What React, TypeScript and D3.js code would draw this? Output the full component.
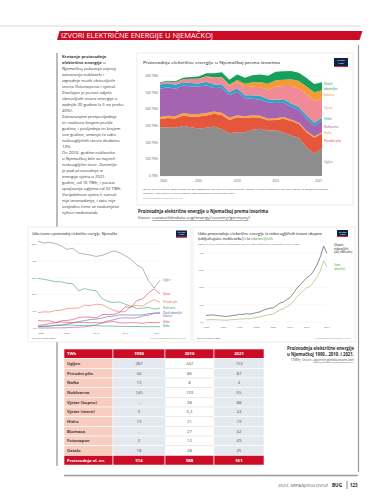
import React from "react";
import * as d3 from "d3";

// ---------- Main stacked area: electricity production by source (TWh) ----------
const mixYears = [2000, 2001, 2002, 2003, 2004, 2005, 2006, 2007, 2008, 2009, 2010, 2011, 2012, 2013, 2014, 2015, 2016, 2017, 2018, 2019, 2020, 2021];
const mixUgljen = [291, 292, 290, 300, 293, 285, 290, 297, 280, 257, 263, 262, 277, 283, 273, 273, 262, 243, 229, 171, 135, 165];
const mixPlin = [49, 56, 55, 63, 62, 72, 73, 76, 86, 79, 89, 86, 76, 67, 61, 63, 82, 87, 83, 91, 95, 90];
const mixNafta = [14, 14, 14, 15, 15, 15, 15, 14, 14, 13, 12, 11, 11, 11, 10, 10, 10, 9, 8, 8, 7, 6];
const mixNuklearna = [170, 171, 165, 165, 167, 163, 167, 141, 149, 135, 141, 108, 99, 97, 97, 92, 85, 76, 76, 75, 64, 69];
const mixHidro = [25, 23, 23, 19, 21, 20, 20, 21, 20, 19, 21, 18, 22, 23, 19, 19, 21, 20, 18, 20, 19, 20];
const mixVjetar = [9.5, 10.5, 15.8, 18.7, 25.5, 27.2, 30.7, 39.7, 40.6, 38.6, 37.8, 48.9, 50.7, 51.7, 57, 79.2, 79.9, 105.7, 110, 126, 132, 114];
const mixSolarna = [0, 0.1, 0.2, 0.3, 0.6, 1.3, 2.2, 3.1, 4.4, 6.6, 11.7, 19.6, 26.4, 31, 36, 38.7, 38.1, 39.4, 45.8, 46.4, 50.6, 50];
const mixOstali = [4.7, 5, 6, 9, 10, 14, 18.6, 24, 28, 30, 33, 36, 43, 45, 48, 50, 50, 50, 50, 50, 50, 49];
const mixKeys = ["Ugljen", "Prirodni plin", "Nafta", "Nuklearna", "Hidro", "Vjetar", "Solarna", "Ostali obnovljivi"];
const mixTicksY = [0, 100, 200, 300, 400, 500, 600];
const mixTicksX = [2000, 2005, 2010, 2015, 2021];

// ---------- Share of sources (%) ----------
const shareYears = [2000, 2001, 2002, 2003, 2004, 2005, 2006, 2007, 2008, 2009, 2010, 2011, 2012, 2013, 2014, 2015, 2016, 2017, 2018, 2019, 2020, 2021];
const shareUgljen = [51.7, 50.6, 51.0, 50.3, 48.9, 46.8, 47.5, 44.6, 44.0, 43.4, 42.6, 43.2, 44.5, 45.9, 44.9, 43.0, 41.0, 37.5, 35.6, 28.2, 23.8, 28.4];
const shareNuklearna = [29.5, 29.0, 28.3, 27.6, 27.5, 26.6, 26.3, 22.1, 23.5, 22.6, 22.2, 17.6, 15.8, 15.2, 15.5, 14.2, 13.1, 11.6, 11.8, 12.3, 11.3, 11.8];
const sharePlin = [9.1, 9.6, 9.5, 10.4, 10.6, 11.6, 11.7, 11.9, 13.5, 13.3, 14.1, 14.0, 12.2, 10.6, 9.6, 9.8, 12.6, 13.5, 13.0, 15.2, 16.9, 15.3];
const shareVjetar = [1.6, 1.8, 2.7, 3.1, 4.3, 4.5, 5.0, 6.3, 6.5, 6.5, 6.0, 8.0, 8.1, 8.1, 9.2, 12.6, 12.3, 16.3, 17.3, 20.8, 23.3, 20.2];
const shareSolarna = [0, 0, 0, 0.1, 0.1, 0.2, 0.4, 0.5, 0.7, 1.1, 1.9, 3.2, 4.2, 4.9, 5.8, 6.1, 5.9, 6.1, 7.1, 7.6, 8.9, 8.7];
const shareOstali = [0.8, 0.9, 1.0, 1.5, 1.7, 2.3, 3.0, 3.8, 4.4, 5.0, 5.3, 5.9, 6.8, 7.1, 7.7, 7.8, 7.7, 7.7, 7.8, 8.5, 8.8, 9.1];
const shareHidro = [4.4, 4.2, 4.3, 3.3, 3.6, 3.3, 3.3, 3.3, 3.3, 3.1, 3.3, 2.9, 3.5, 3.9, 3.1, 3.0, 3.2, 3.1, 2.8, 3.3, 3.2, 3.4];
const shareNafta = [1.0, 1.1, 1.4, 1.7, 1.6, 1.8, 1.7, 1.5, 1.5, 1.6, 1.4, 1.2, 1.2, 1.1, 1.0, 0.9, 0.9, 0.9, 0.8, 0.8, 0.8, 0.8];
const shareTicksY = [0, 10, 20, 30, 40, 50];
const shareTicksX = [2000, 2005, 2010, 2015, 2021];

// ---------- Low-carbon vs renewables (%) ----------
const lcYears = [1985, 1986, 1987, 1988, 1989, 1990, 1991, 1992, 1993, 1994, 1995, 1996, 1997, 1998, 1999, 2000, 2001, 2002, 2003, 2004, 2005, 2006, 2007, 2008, 2009, 2010, 2011, 2012, 2013, 2014, 2015, 2016, 2017, 2018, 2019, 2020, 2021];
const lcUkupno = [3.8, 4.0, 4.1, 3.9, 3.6, 3.4, 3.2, 3.5, 3.8, 4.0, 4.5, 4.4, 4.8, 4.6, 4.9, 5.5, 5.8, 6.8, 7.5, 8.0, 8.2, 9.6, 11.0, 11.5, 12.9, 14.2, 16.6, 19.5, 21.5, 23.7, 25.6, 27.1, 29.5, 33.0, 37.7, 44.0, 39.8];
const lcObnovljivi = [1.2, 1.3, 1.4, 1.3, 1.2, 1.1, 1.0, 1.2, 1.4, 1.5, 1.8, 1.7, 2.0, 1.9, 2.2, 2.6, 2.8, 3.5, 4.0, 4.4, 4.6, 5.8, 7.0, 7.6, 8.8, 10.0, 12.0, 14.6, 16.3, 18.2, 19.9, 20.8, 23.0, 26.0, 29.5, 35.5, 32.0];
const lcTicksY = [0, 10, 20, 30, 40];
const lcTicksX = [1985, 1990, 1995, 2000, 2005, 2010, 2015, 2021];

// ---------- Table ----------
const tableHeader = ["TWh", "1990", "2010", "2021"];
const tableLabels = ["Ugljen", "Prirodni plin", "Nafta", "Nuklearna", "Vjetar (kopno)", "Vjetar (more)", "Hidro", "Biomasa", "Fotonapon", "Ostalo"];
const table1990 = ["287", "34", "10", "145", "-", "0", "19", "-", "0", "18"];
const table2010 = ["242", "86", "8", "133", "38", "0,2", "21", "27", "12", "28"];
const table2021 = ["153", "87", "4", "65", "88", "24", "19", "42", "49", "25"];
const tableTotal = ["Proizvodnja el. en.", "514", "588", "551"];

const bodyText = [
  "",
  "",
  "Njemačkoj pokazuje utjecaj",
  "zatvaranja nuklearki i",
  "izgradnje novih obnovljivih",
  "izvora (fotonapona i vjetra).",
  "Značajan je porast udjela",
  "obnovljivih izvora energije u",
  "zadnjih 20 godina (s 5 na preko",
  "40%).",
  "Zatvaranjem pretposljednja",
  "tri reaktora krajem prošle",
  "godine, i posljednja tri krajem",
  "ove godine, smanjit će udio",
  "niskougljičnih izvora dodatno",
  "12%.",
  "Do 2016. godine nuklearke",
  "u Njemačkoj bile su najveći",
  "niskougljični izvor. Zanimljiv",
  "je pad proizvodnje iz",
  "energije vjetra u 2021.",
  "godini, od 16 TWh, i porast",
  "spaljivanja ugljena od 32 TWh.",
  "Varijabilnost vjetra (i sunca)",
  "nije iznenađenje, i zato nije",
  "svejedno čime se nadomjesti",
  "njihov nedostatak.",
];

const FC = "Lato, 'Noto Sans', sans-serif";
const FM = "'Open Sans', 'Noto Sans', sans-serif";

const mixColors: Record<string, string> = {
  "Ugljen": "#8d8d8d",
  "Prirodni plin": "#e6563c",
  "Nafta": "#f4a33e",
  "Nuklearna": "#a564b0",
  "Hidro": "#2fa2c8",
  "Vjetar": "#f08a96",
  "Solarna": "#f59b36",
  "Ostali obnovljivi": "#17a05a",
};

const shareColors: Record<string, string> = {
  "Ugljen": "#80808f",
  "Vjetar": "#e2345f",
  "Prirodni plin": "#e8705c",
  "Nuklearna": "#3fa56a",
  "Ostali obnovljivi": "#5469b3",
  "Solarna": "#a2589f",
  "Hidro": "#d8434e",
  "Nafta": "#2f9c80",
};

function relax(items: { key: string; y: number }[], gap: number, maxY: number) {
  const s = items.map((d) => ({ ...d })).sort((a, b) => a.y - b.y);
  for (let i = 1; i < s.length; i++) if (s[i].y < s[i - 1].y + gap) s[i].y = s[i - 1].y + gap;
  if (s[s.length - 1].y > maxY) {
    s[s.length - 1].y = maxY;
    for (let i = s.length - 2; i >= 0; i--) if (s[i].y > s[i + 1].y - gap) s[i].y = s[i + 1].y - gap;
  }
  return s;
}

function Logo({ x, y, w, h }: { x: number; y: number; w: number; h: number }) {
  return (
    <g>
      <rect x={x} y={y} width={w} height={h} fill="#0b2447" />
      <rect x={x} y={y + h - 1} width={w} height={1} fill="#d42b2b" />
      <text x={x + w / 2} y={y + h * 0.38} fontSize={1.6} fill="#fff" textAnchor="middle" fontFamily={FC}>Our World</text>
      <text x={x + w / 2} y={y + h * 0.68} fontSize={1.6} fill="#fff" textAnchor="middle" fontFamily={FC}>in Data</text>
    </g>
  );
}

export default function App() {
  // ---- main stacked area chart ----
  const mx = d3.scaleLinear().domain([2000, 2021]).range([160, 322]);
  const my = d3.scaleLinear().domain([0, 600]).range([176, 76]);
  const mixCols = [mixUgljen, mixPlin, mixNafta, mixNuklearna, mixHidro, mixVjetar, mixSolarna, mixOstali];
  const mixRows = mixYears.map((year, i) => {
    const r: any = { year };
    mixKeys.forEach((k, j) => (r[k] = mixCols[j][i]));
    return r;
  });
  const stacked = d3.stack<any>().keys(mixKeys)(mixRows);
  const area = d3
    .area<any>()
    .x((d) => mx(d.data.year))
    .y0((d) => my(d[0]))
    .y1((d) => my(d[1]));
  const lastIdx = mixYears.length - 1;
  const mixLabels = relax(
    stacked.map((s) => ({ key: s.key, y: my((s[lastIdx][0] + s[lastIdx][1]) / 2) })),
    5,
    170
  );

  // ---- share line chart ----
  const sx = d3.scaleLinear().domain([2000, 2021]).range([38, 160]);
  const sy = d3.scaleLinear().domain([0, 50]).range([328, 244]);
  const shareSeries = [
    { key: "Ugljen", v: shareUgljen },
    { key: "Nuklearna", v: shareNuklearna },
    { key: "Prirodni plin", v: sharePlin },
    { key: "Vjetar", v: shareVjetar },
    { key: "Solarna", v: shareSolarna },
    { key: "Ostali obnovljivi", v: shareOstali },
    { key: "Hidro", v: shareHidro },
    { key: "Nafta", v: shareNafta },
  ];
  const sLine = d3
    .line<number>()
    .x((_, i) => sx(shareYears[i]))
    .y((d) => sy(d));
  const shareLabels = relax(
    shareSeries.map((s) => ({ key: s.key, y: sy(s.v[s.v.length - 1]) })),
    3.4,
    326
  );

  // ---- low carbon chart ----
  const lx = d3.scaleLinear().domain([1985, 2021]).range([206, 327]);
  const ly = d3.scaleLinear().domain([0, 40]).range([322, 253]);
  const lLine = d3
    .line<number>()
    .x((_, i) => lx(lcYears[i]))
    .y((d) => ly(d));

  // ---- table ----
  const colX = [64, 113, 165, 214, 264];
  const tTop = 349;
  const rowH = 9.67;
  const colFill = ["#f6cdbf", "#e3e9ee", "#ffffff", "#e3e9ee"];

  return (
    <svg width={375} height={499} style={{ position: "absolute", left: 0, top: 0, display: "block" }}>
      <rect x={0} y={0} width={375} height={499} fill="#ffffff" />
      {/* top rule */}
      <line x1={0} x2={360} y1={26} y2={26} stroke="#cfcfcf" strokeWidth={0.8} />
      {/* banner */}
      <polygon points="59.5,31 362.5,31 359.5,40 57,40" fill="#cc0b27" />
      <text x={61} y={38.4} fontSize={7.6} fill="#fff" fontFamily={FM} textLength={152} lengthAdjust="spacingAndGlyphs">
        IZVORI ELEKTRIČNE ENERGIJE U NJEMAČKOJ
      </text>

      {/* frame lines */}
      <line x1={57} x2={57} y1={53} y2={466} stroke="#555" strokeWidth={0.8} />
      <line x1={358.5} x2={358.5} y1={45} y2={472} stroke="#9a9a9a" strokeWidth={1.2} />
      <line x1={64} x2={358} y1={475.5} y2={475.5} stroke="#9a9a9a" strokeWidth={1.4} />

      {/* body text column */}
      <g fontFamily={FM} fontSize={4.25} fill="#3a3a3a">
        <text x={62} y={57.5} fontWeight={700}>Kretanje proizvodnje</text>
        <text x={62} y={63.5}>
          <tspan fontWeight={700}>električne energije</tspan> u
        </text>
        {bodyText.map((t, i) =>
          i < 2 ? null : (
            <text key={i} x={62} y={57.5 + i * 6}>
              {t}
            </text>
          )
        )}
      </g>

      {/* ===== main chart ===== */}
      <rect x={137} y={53} width={216} height={152} fill="#fff" stroke="#e2e2e2" strokeWidth={0.6} />
      <text x={143} y={64} fontSize={4.4} fill="#333" fontFamily={FC} textLength={137} lengthAdjust="spacingAndGlyphs">
        Proizvodnja električne energije u Njemačkoj prema izvorima
      </text>
      <Logo x={334} y={58} w={14} h={9} />
      {mixTicksY.map((t) => (
        <g key={t}>
          <line x1={160} x2={322} y1={my(t)} y2={my(t)} stroke="#dcdcdc" strokeWidth={0.4} strokeDasharray="1.5,1.2" />
          <text x={158} y={my(t)} dy="0.35em" fontSize={3} fill="#777" textAnchor="end" fontFamily={FC}>
            {t} TWh
          </text>
        </g>
      ))}
      {stacked.map((s) => (
        <path key={s.key} d={area(s) || ""} fill={mixColors[s.key]} />
      ))}
      {mixTicksX.map((t, i) => (
        <text
          key={t}
          x={mx(t)}
          y={182}
          fontSize={3}
          fill="#777"
          fontFamily={FC}
          textAnchor={i === 0 ? "start" : i === mixTicksX.length - 1 ? "end" : "middle"}
        >
          {t}
        </text>
      ))}
      {mixLabels.map((l) =>
        l.key === "Ostali obnovljivi" ? (
          <g key={l.key}>
            <text x={324} y={l.y - 2.4} dy="0.35em" fontSize={3.2} fill={mixColors[l.key]} fontFamily={FC}>Ostali</text>
            <text x={324} y={l.y + 2.4} dy="0.35em" fontSize={3.2} fill={mixColors[l.key]} fontFamily={FC}>obnovljivi</text>
          </g>
        ) : (
          <text key={l.key} x={324} y={l.y} dy="0.35em" fontSize={3.2} fill={mixColors[l.key]} fontFamily={FC}>
            {l.key}
          </text>
        )
      )}
      <g fontFamily={FC} fontSize={2.5} fill="#6a6a6a">
        <text x={143} y={190} textLength={185} lengthAdjust="spacingAndGlyphs">
          Izvor: Our World in Data based on BP Statistical Review of World Energy, Ember Global Electricity Review (2022) &amp; Ember European
        </text>
        <text x={143} y={193.6} textLength={92} lengthAdjust="spacingAndGlyphs">
          Regulatory. "Ostali obnovljivi" uključuje biomasu, otpad, geotermalnu, valove te plimu i oseku.
        </text>
        <text x={143} y={198.6} fill="#9a9a9a" textLength={40} lengthAdjust="spacingAndGlyphs">
          OurWorldInData.org/energy • CC BY
        </text>
      </g>
      <text x={138} y={213} fontSize={4.4} fontWeight={700} fill="#2a2a2a" fontFamily={FM} textLength={130} lengthAdjust="spacingAndGlyphs">
        Proizvodnja električne energije u Njemačkoj prema izvorima
      </text>
      <text x={138} y={219} fontSize={4.2} fill="#444" fontFamily={FM} textLength={112} lengthAdjust="spacingAndGlyphs">
        (Izvor: <tspan textDecoration="underline">ourworldindata.org/energy/country/germany</tspan>)
      </text>

      {/* ===== share line chart ===== */}
      <rect x={28} y={227} width={163} height={115} fill="#fff" stroke="#e2e2e2" strokeWidth={0.6} />
      <text x={32} y={235} fontSize={3.6} fill="#333" fontFamily={FC} textLength={85} lengthAdjust="spacingAndGlyphs">
        Udio izvora u proizvodnji električne energije, Njemačka
      </text>
      <Logo x={176} y={230.5} w={11} h={7} />
      {shareTicksY.map((t) => (
        <g key={t}>
          <line x1={38} x2={160} y1={sy(t)} y2={sy(t)} stroke="#dcdcdc" strokeWidth={0.35} strokeDasharray="1.5,1.2" />
          <text x={36.5} y={sy(t)} dy="0.35em" fontSize={2.6} fill="#777" textAnchor="end" fontFamily={FC}>
            {t}%
          </text>
        </g>
      ))}
      {shareTicksX.map((t, i) => (
        <text
          key={t}
          x={sx(t)}
          y={333.5}
          fontSize={2.6}
          fill="#777"
          fontFamily={FC}
          textAnchor={i === 0 ? "start" : i === shareTicksX.length - 1 ? "end" : "middle"}
        >
          {t}
        </text>
      ))}
      {shareSeries.map((s) => (
        <path key={s.key} d={sLine(s.v) || ""} fill="none" stroke={shareColors[s.key]} strokeWidth={0.6} />
      ))}
      {shareLabels.map((l) => (
        <text key={l.key} x={163} y={l.y} dy="0.35em" fontSize={2.7} fill={shareColors[l.key]} fontFamily={FC}>
          {l.key}
        </text>
      ))}
      <text x={32} y={338.5} fontSize={2.2} fill="#666" fontFamily={FC}>Izvor: Our World in Data</text>
      <text x={186} y={338.5} fontSize={2.2} fill="#999" fontFamily={FC} textAnchor="end">OurWorldInData.org/energy • CC BY</text>

      {/* ===== low carbon chart ===== */}
      <rect x={193} y={227} width={162} height={115} fill="#fff" stroke="#e2e2e2" strokeWidth={0.6} />
      <text x={198} y={235} fontSize={3.6} fill="#333" fontFamily={FC} textLength={124} lengthAdjust="spacingAndGlyphs">
        Udio proizvodnje električne energije iz nisko ugljičnih izvora ukupno
      </text>
      <text x={198} y={240.2} fontSize={3.6} fill="#333" fontFamily={FC} textLength={75} lengthAdjust="spacingAndGlyphs">
        (uključujuće nuklearke) i iz <tspan fill="#5fa84a">obnovljivih</tspan>
      </text>
      <text x={198} y={245} fontSize={2.3} fill="#777" fontFamily={FC} textLength={102} lengthAdjust="spacingAndGlyphs">
        Obnovljivi izvori uključuju hidroenergiju, solarnu, vjetar, geotermalnu, bioenergiju, valove i plimu.
      </text>
      <Logo x={337} y={230} w={11} h={7} />
      {lcTicksY.map((t) => (
        <g key={t}>
          <line x1={206} x2={327} y1={ly(t)} y2={ly(t)} stroke="#dcdcdc" strokeWidth={0.35} strokeDasharray="1.5,1.2" />
          <text x={204} y={ly(t)} dy="0.35em" fontSize={2.6} fill="#777" textAnchor="end" fontFamily={FC}>
            {t}%
          </text>
        </g>
      ))}
      {lcTicksX.map((t) => (
        <text key={t} x={lx(t)} y={327.8} fontSize={2.6} fill="#777" fontFamily={FC} textAnchor="middle">
          {t}
        </text>
      ))}
      <path d={lLine(lcObnovljivi) || ""} fill="none" stroke="#86bb5c" strokeWidth={0.6} />
      <path d={lLine(lcUkupno) || ""} fill="none" stroke="#3a3a4a" strokeWidth={0.6} />
      <g fontFamily={FC} fontSize={2.7} fill="#333">
        <text x={334} y={ly(lcUkupno[lcUkupno.length - 1]) - 7}>Ukupno</text>
        <text x={334} y={ly(lcUkupno[lcUkupno.length - 1]) - 3.7}>niskougljični</text>
        <text x={334} y={ly(lcUkupno[lcUkupno.length - 1]) - 0.4}>(uklj. nuklearke)</text>
      </g>
      <g fontFamily={FC} fontSize={2.7} fill="#6aaa48">
        <text x={334} y={ly(lcObnovljivi[lcObnovljivi.length - 1]) - 0.6}>Samo</text>
        <text x={334} y={ly(lcObnovljivi[lcObnovljivi.length - 1]) + 2.7}>obnovljivi</text>
      </g>
      <text x={197} y={339} fontSize={2.2} fill="#666" fontFamily={FC}>Izvor: Our World in Data</text>
      <text x={351} y={339} fontSize={2.2} fill="#999" fontFamily={FC} textAnchor="end">OurWorldInData.org/energy • CC BY</text>

      {/* ===== table ===== */}
      <g fontFamily={FM}>
        {tableHeader.map((h, c) => (
          <g key={"h" + c}>
            <rect x={colX[c]} y={tTop} width={colX[c + 1] - colX[c]} height={rowH} fill="#cc0b27" stroke="#fff" strokeWidth={0.6} />
            <text
              x={c === 0 ? colX[c] + 3 : (colX[c] + colX[c + 1]) / 2}
              y={tTop + rowH / 2}
              dy="0.35em"
              fontSize={4.2}
              fontWeight={700}
              fill="#fff"
              textAnchor={c === 0 ? "start" : "middle"}
            >
              {h}
            </text>
          </g>
        ))}
        {tableLabels.map((lab, r) => {
          const y = tTop + rowH * (r + 1);
          const vals = [lab, table1990[r], table2010[r], table2021[r]];
          return (
            <g key={"r" + r}>
              {vals.map((v, c) => (
                <g key={c}>
                  <rect
                    x={colX[c]}
                    y={y}
                    width={colX[c + 1] - colX[c]}
                    height={rowH}
                    fill={colFill[c]}
                    stroke={c === 2 ? "#dfe5e9" : "#ffffff"}
                    strokeWidth={0.6}
                  />
                  <text
                    x={c === 0 ? colX[c] + 3 : (colX[c] + colX[c + 1]) / 2}
                    y={y + rowH / 2}
                    dy="0.35em"
                    fontSize={4.2}
                    fontWeight={c === 0 ? 700 : 400}
                    fill={c === 0 ? "#4a3a36" : "#555"}
                    textAnchor={c === 0 ? "start" : "middle"}
                  >
                    {v}
                  </text>
                </g>
              ))}
            </g>
          );
        })}
        {tableTotal.map((v, c) => {
          const y = tTop + rowH * (tableLabels.length + 1);
          return (
            <g key={"t" + c}>
              <rect x={colX[c]} y={y} width={colX[c + 1] - colX[c]} height={rowH} fill="#cc0b27" stroke="#fff" strokeWidth={0.6} />
              <text
                x={c === 0 ? colX[c] + 3 : (colX[c] + colX[c + 1]) / 2}
                y={y + rowH / 2}
                dy="0.35em"
                fontSize={4.2}
                fontWeight={700}
                fill="#fff"
                textAnchor={c === 0 ? "start" : "middle"}
              >
                {v}
              </text>
            </g>
          );
        })}
      </g>

      {/* table caption */}
      <g fontFamily={FM} textAnchor="end">
        <text x={354} y={349.5} fontSize={4.3} fontWeight={700} fill="#2a2a2a" textLength={67} lengthAdjust="spacingAndGlyphs">
          Proizvodnja električne energije
        </text>
        <text x={354} y={355.5} fontSize={4.3} fontWeight={700} fill="#2a2a2a" textLength={67} lengthAdjust="spacingAndGlyphs">
          u Njemačkoj 1990., 2010. i 2021.
        </text>
        <text x={354} y={361} fontSize={3.3} fill="#555" textLength={63} lengthAdjust="spacingAndGlyphs">
          (TWh; Izvor: <tspan textDecoration="underline">ag.energiebilanzen.de</tspan>)
        </text>
      </g>

      {/* footer */}
      <g fontFamily={FM} fontSize={4.3}>
        <text x={278} y={486.5} fill="#555" textLength={50} lengthAdjust="spacingAndGlyphs">2022. SRPANJ/KOLOVOZ</text>
        <text x={332} y={486.5} fill="#222" fontWeight={700} textLength={10} lengthAdjust="spacingAndGlyphs">BUG</text>
        <line x1={347} x2={347} y1={481} y2={489} stroke="#333" strokeWidth={0.6} />
        <text x={350} y={486.5} fill="#222" fontWeight={700} textLength={7.5} lengthAdjust="spacingAndGlyphs">123</text>
      </g>
    </svg>
  );
}
